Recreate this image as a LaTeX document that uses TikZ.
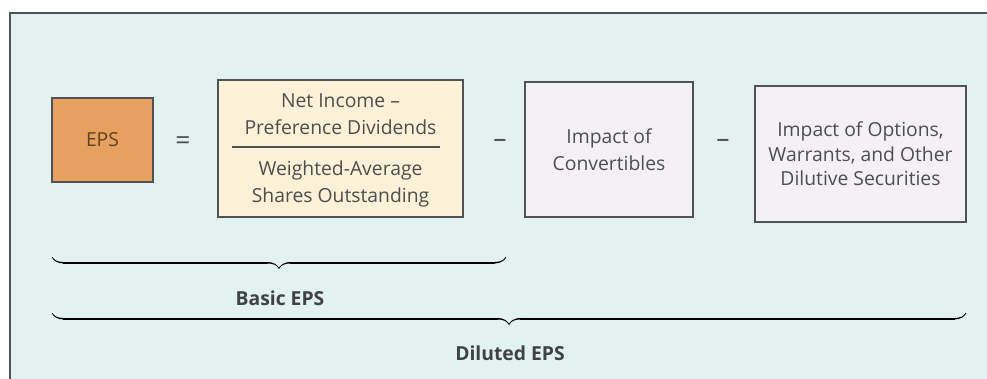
\documentclass[tikz,border=0pt]{standalone}
\usepackage{fontspec}
\setmainfont{Open Sans}
\usepackage{tikz}
\usetikzlibrary{decorations.pathreplacing,calligraphy}
\usetikzlibrary{arrows.meta}
\definecolor{panelbg}{RGB}{225,242,241}
\definecolor{epsfill}{RGB}{230,160,95}
\definecolor{epstext}{RGB}{100,64,30}
\definecolor{fracfill}{RGB}{253,242,216}
\definecolor{impfill}{RGB}{243,241,246}
\definecolor{edge}{RGB}{80,83,85}
\definecolor{txt}{RGB}{78,78,78}

\begin{document}
\begin{tikzpicture}[
    x=0.2mm, y=-0.2mm,
    box/.style = {draw=edge, line width=1.1pt, inner sep=0mm,
        text=txt, align=center, font=\fontsize{11}{15.5}\selectfont},
    sign/.style = {text=txt, font=\fontsize{15}{16}\selectfont},
    bracebar/.style = {decorate, draw=edge, line width=0.9pt,
        decoration={calligraphic brace, amplitude=6.5pt, mirror}},
    tag/.style = {text=edge!80!black, font=\fontsize{11}{13}\selectfont\bfseries}
  ]
  \useasboundingbox (0,0) rectangle (987,378);
  % panel
  \draw[fill=panelbg, draw=edge, line width=1.5pt] (10,13) rectangle (1000,400);

  % boxes of the formula
  \node[box, fill=epsfill, text=epstext, minimum width=101*0.2mm, minimum height=84*0.2mm] (eps) at (102.5,140) {EPS};
  \node[sign] (eq) at (183,143) {=};
  \node[box, fill=fracfill, minimum width=245*0.2mm, minimum height=137*0.2mm] (frac) at (340.5,148.5) {};
  \node[box, draw=none, fill=none] (num) at (340.5,114) {Net Income –\\Preference Dividends};
  \node[box, draw=none, fill=none] (den) at (340.5,184) {Weighted-Average\\Shares Outstanding};
  \draw[edge, line width=1pt] (232,147) -- (440,147);
  \node[sign] (minA) at (500,143) {–};
  \node[box, fill=impfill, minimum width=168*0.2mm, minimum height=135*0.2mm] (conv) at (609,149.5) {Impact of\\Convertibles};
  \node[sign] (minB) at (723,143) {–};
  \node[box, fill=impfill, minimum width=211*0.2mm, minimum height=136*0.2mm, font=\fontsize{11}{14}\selectfont] (opt) at (860.5,154) {Impact of Options,\\Warrants, and Other\\Dilutive Securities};

  % braces
  \coordinate (basicL) at (52,257);
  \coordinate (basicR) at (506,257);
  \coordinate (dilL) at (52,313);
  \coordinate (dilR) at (966,313);
  \draw[bracebar] (basicL) -- (basicR);
  \draw[bracebar] (dilL) -- (dilR);
  \node[tag] (basic) at (280,298) {Basic EPS};
  \node[tag] (diluted) at (510,353) {Diluted EPS};
\end{tikzpicture}
\end{document}
